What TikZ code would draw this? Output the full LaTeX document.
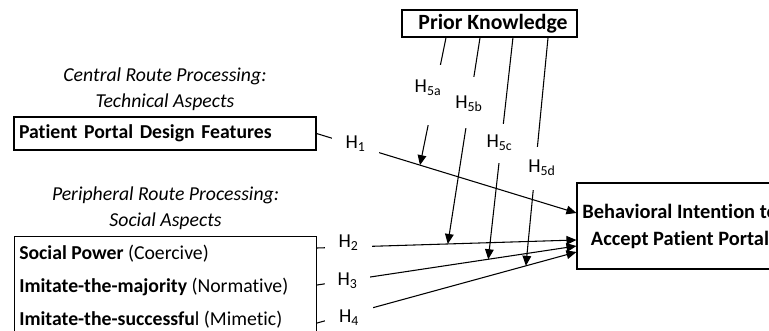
\documentclass[tikz,border=0pt]{standalone}
\usepackage{fontspec}
\setmainfont{Carlito}[Ligatures=NoCommon]
\usetikzlibrary{positioning, arrows.meta}

\begin{document}
\begin{tikzpicture}[
        x=0.75pt, y=-0.75pt,
        box/.style={
            rectangle, draw=black, line width=0.8pt, inner sep=0pt,
            font=\fontsize{14.8}{20}\selectfont\bfseries
        },
        route/.style={font=\fontsize{14.8}{19.5}\selectfont\itshape, align=center},
        item/.style={anchor=west, inner sep=0pt, font=\fontsize{14.8}{18}\selectfont},
        hyp/.style={fill=white, inner sep=0pt, anchor=base, font=\fontsize{14.8}{18}\selectfont},
        arrow/.style={-{Triangle[length=7.5pt, width=6.5pt]}, line width=0.8pt}
    ]
        \useasboundingbox (0,0) rectangle (769,331);
        \clip (0,0) rectangle (769,331);

        \node[box, minimum width=131.25pt, minimum height=20.25pt] (pk) at (489.5,23.5) {};
        \node[inner sep=0pt, font=\fontsize{16.3}{20}\selectfont\bfseries] (pktext) at (493,23.5) {Prior Knowledge};
        \node[box, text width=219pt, inner xsep=3.75pt, align=left, minimum height=24.75pt]
            (ppd) at (165,133.5) {Patient Portal Design Features};
        \node[route, above=1pt of ppd] (central) {Central Route Processing:\\Technical Aspects};
        \node[box, anchor=north west, minimum width=226.5pt, minimum height=85.5pt] (social) at (14,236) {};
        \node[route, above=1pt of social] (peripheral) {Peripheral Route Processing:\\Social Aspects};
        \node[item] (s1) at (19,254) {\textbf{Social Power} (Coercive)};
        \node[item, below=25pt of s1.west, anchor=west] (s2) {\textbf{Imitate-the-majority} (Normative)};
        \node[item, below=24pt of s2.west, anchor=west] (s3) {\textbf{Imitate-the-successfu}l (Mimetic)};
        \node[box, align=center, minimum width=154.5pt, minimum height=64.5pt,
            font=\fontsize{15.3}{20.25}\selectfont\bfseries]
            (bi) at (680,226) {Behavioral Intention to\\Accept Patient Portal};

        % main paths
        \draw[arrow] (ppd.east) -- coordinate[pos=0.398] (m1) ([yshift=9.75pt]bi.west);
        \draw[arrow] ([yshift=-9pt]social.north east) -- coordinate[pos=0.504] (m2) ([yshift=-10.5pt]bi.west);
        \draw[arrow] ([yshift=-36.75pt]social.north east) -- coordinate[pos=0.66] (m3) ([yshift=-15pt]bi.west);
        \draw[arrow] ([yshift=-65.25pt]social.north east) -- coordinate[pos=0.805] (m4) ([yshift=-19.5pt]bi.west);

        % moderation by prior knowledge
        \draw[arrow] ([xshift=-32.6pt]pk.south) -- (m1);
        \draw[arrow] ([xshift=-7.1pt]pk.south) -- (m2);
        \draw[arrow] ([xshift=17.6pt]pk.south) -- (m3);
        \draw[arrow] ([xshift=43.9pt]pk.south) -- (m4);

        \node[hyp, minimum width=35.25pt, text height=11.25pt, text depth=5.25pt] (h1) at (355.5,149) {H\textsubscript{1}};
        \node[hyp, minimum width=35.25pt, text height=8.25pt, text depth=6pt] (h2) at (348.5,248) {H\textsubscript{2}};
        \node[hyp, minimum width=33.75pt, text height=12pt, text depth=6pt] (h3) at (347.5,286) {H\textsubscript{3}};
        \node[hyp, minimum width=36pt, text height=14.25pt, text depth=6pt] (h4) at (349,323) {H\textsubscript{4}};
        \node[hyp, minimum width=24pt, text height=21pt, text depth=24pt] (h5a) at (428,93) {H\textsubscript{5a}};
        \node[hyp, minimum width=21pt, text height=24pt, text depth=14.25pt] (h5b) at (469,109) {H\textsubscript{5b}};
        \node[hyp, minimum width=20.25pt, text height=18pt, text depth=11.25pt] (h5c) at (499.5,148) {H\textsubscript{5c}};
        \node[hyp, minimum width=21pt, text height=19.5pt, text depth=12.75pt] (h5d) at (542,173) {H\textsubscript{5d}};
    \end{tikzpicture}
\end{document}
